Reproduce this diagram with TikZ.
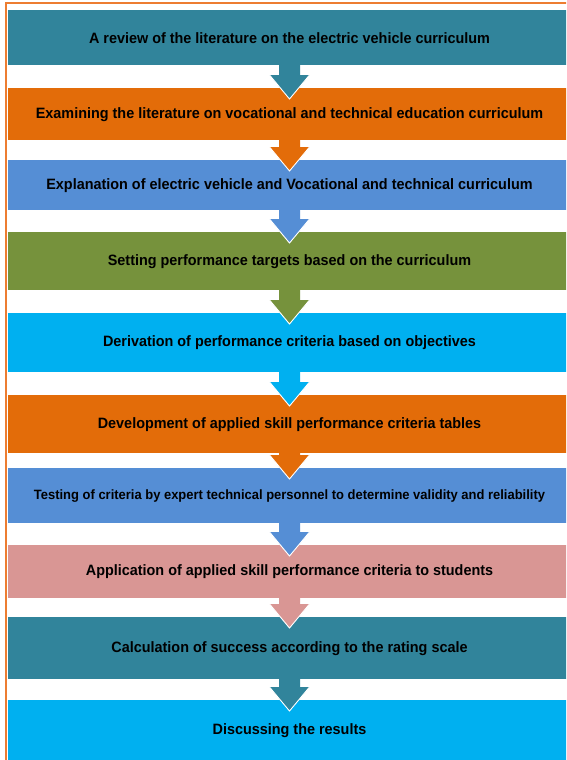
\documentclass[tikz,border=0pt]{standalone}
\usepackage{fontspec}
\setmainfont{Liberation Sans}[FakeStretch=0.96]
\usetikzlibrary{calc}
\definecolor{cteal}{HTML}{31849B}
\definecolor{corange}{HTML}{E36C09}
\definecolor{cblue}{HTML}{558ED5}
\definecolor{colive}{HTML}{76923C}
\definecolor{ccyan}{HTML}{00B0F0}
\definecolor{cpink}{HTML}{D99694}
\definecolor{cframe}{HTML}{ED7D31}
\newcommand{\flowarrow}[3]{%
  \fill[#3] ($(#1.south)+(-10.5,-0.5)$) -- ($(#1.south)+(10.5,-0.5)$)
    -- ($(#2.north)+(10.5,-13)$) -- ($(#2.north)+(20,-13)$)
    -- ($(#2.north)+(0,11)$) -- ($(#2.north)+(-20,-13)$)
    -- ($(#2.north)+(-10.5,-13)$) -- cycle;
  \draw[white, line width=0.9pt] ($(#2.north)+(-20,-13)$) -- ($(#2.north)+(0,11)$) -- ($(#2.north)+(20,-13)$);}
\begin{document}
\begin{tikzpicture}[x=1pt,y=-1pt,
  stepbox/.style={draw=none, minimum width=563pt, inner sep=0pt, anchor=north,
    font=\fontsize{15}{17}\selectfont\bfseries, text=black}]
\useasboundingbox (0,0) rectangle (566,760);
\fill[white] (0,0) rectangle (566,760);
\begin{scope}
\clip (0,0) rectangle (566,760);
\draw[cframe, line width=2pt] (6,3) rectangle (580,780);
\node[stepbox, fill=cteal, minimum height=55pt] (b1) at (289.5,10) {A review of the literature on the electric vehicle curriculum};
\node[stepbox, fill=corange, minimum height=52pt] (b2) at (289.5,88) {Examining the literature on vocational and technical education curriculum};
\node[stepbox, fill=cblue, minimum height=50pt] (b3) at (289.5,160) {Explanation of electric vehicle and Vocational and technical curriculum};
\node[stepbox, fill=colive, minimum height=58pt] (b4) at (289.5,232) {Setting performance targets based on the curriculum};
\node[stepbox, fill=ccyan, minimum height=59pt] (b5) at (289.5,313) {Derivation of performance criteria based on objectives};
\node[stepbox, fill=corange, minimum height=58pt] (b6) at (289.5,395) {Development of applied skill performance criteria tables};
\node[stepbox, fill=cblue, minimum height=55pt, font=\fontsize{13.5}{15}\selectfont\bfseries] (b7) at (289.5,468) {Testing of criteria by expert technical personnel to determine validity and reliability};
\node[stepbox, fill=cpink, minimum height=53pt] (b8) at (289.5,545) {Application of applied skill performance criteria to students};
\node[stepbox, fill=cteal, minimum height=62pt] (b9) at (289.5,617) {Calculation of success according to the rating scale};
\node[stepbox, fill=ccyan, minimum height=60pt] (b10) at (289.5,700) {Discussing the results};
\flowarrow{b1}{b2}{cteal}
\flowarrow{b2}{b3}{corange}
\flowarrow{b3}{b4}{cblue}
\flowarrow{b4}{b5}{colive}
\flowarrow{b5}{b6}{ccyan}
\flowarrow{b6}{b7}{corange}
\flowarrow{b7}{b8}{cblue}
\flowarrow{b8}{b9}{cpink}
\flowarrow{b9}{b10}{cteal}
\end{scope}
\end{tikzpicture}
\end{document}
